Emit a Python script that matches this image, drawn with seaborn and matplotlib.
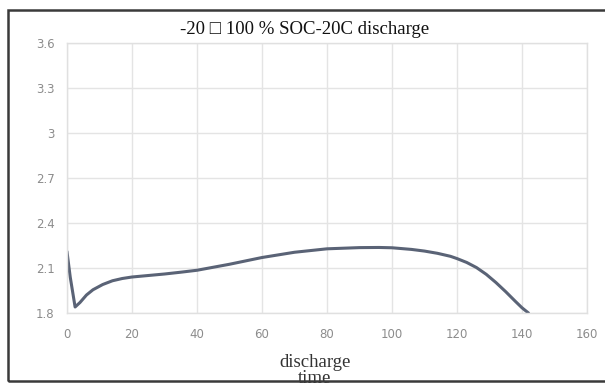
import matplotlib
matplotlib.use("Agg")
import matplotlib.pyplot as plt
from matplotlib.patches import Rectangle
import pandas as pd
import seaborn as sns

# discharge curve
discharge_time = [0, 1, 2.5, 4, 6, 8, 11, 14, 17, 20, 25, 30, 35, 40, 50, 60, 70,
                  80, 90, 96, 100, 106, 110, 114, 118, 120, 123, 126, 129, 132,
                  135, 138, 140, 142]
voltage = [2.21, 2.04, 1.84, 1.87, 1.92, 1.955, 1.99, 2.015, 2.03, 2.04, 2.05, 2.06,
           2.072, 2.085, 2.125, 2.17, 2.205, 2.228, 2.236, 2.237, 2.235, 2.224,
           2.213, 2.198, 2.178, 2.163, 2.137, 2.103, 2.058, 2.003, 1.942, 1.877,
           1.835, 1.8]

x_ticks = [0, 20, 40, 60, 80, 100, 120, 140, 160]
y_ticks = [1.8, 2.1, 2.4, 2.7, 3.0, 3.3, 3.6]
y_tick_labels = ["1.8", "2.1", "2.4", "2.7", "3", "3.3", "3.6"]

title = "-20 \u25a1 100 % SOC-20C discharge"
x_label = "discharge\ntime"


def main():
    sns.set_style("whitegrid")
    df = pd.DataFrame({"time": discharge_time, "voltage": voltage})

    fig = plt.figure(figsize=(6.05, 3.88), dpi=100)
    ax = fig.add_axes([0.1107, 0.1933, 0.8595, 0.6957])

    sns.lineplot(data=df, x="time", y="voltage", ax=ax, color="#5a6376",
                 linewidth=2.2, sort=False)

    ax.set_xlim(0, 160)
    ax.set_ylim(1.8, 3.6)
    ax.set_xticks(x_ticks)
    ax.set_yticks(y_ticks)
    ax.set_yticklabels(y_tick_labels)
    ax.tick_params(axis="both", colors="#8c8c8c", labelsize=8.5, length=0)
    ax.tick_params(axis="x", pad=11)
    ax.tick_params(axis="y", pad=9)
    ax.grid(True, color="#e4e4e4", linewidth=1)
    for sp in ax.spines.values():
        sp.set_color("#e0e0e0")
        sp.set_linewidth(1)

    ax.set_ylabel("")
    ax.set_xlabel(x_label, family=["Liberation Serif", "DejaVu Serif"],
                  fontsize=13.5, color="#333333", linespacing=0.95)
    ax.xaxis.set_label_coords(0.477, -0.152, transform=ax.transAxes)
    ax.xaxis.label.set_va("top")

    fig.text(0.504, 0.923, title, ha="center", va="center",
             family=["Liberation Serif", "DejaVu Sans"], fontsize=13.5, color="#111111")

    # outer frame of the screenshot (no right edge visible)
    box = Rectangle((8 / 605, 7 / 388), 1.2, (371 / 388), transform=fig.transFigure,
                    fill=False, edgecolor="#3a3a3a", linewidth=1.8, zorder=5)
    fig.patches.append(box)

    fig.savefig("out.png", dpi=100)
    plt.close(fig)


if __name__ == "__main__":
    main()
